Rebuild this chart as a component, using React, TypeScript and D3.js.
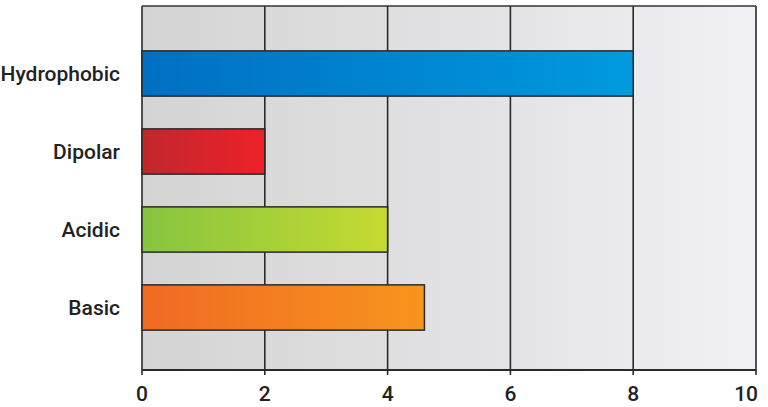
import React from 'react'
import * as d3 from 'd3'

const categories = ['Hydrophobic', 'Dipolar', 'Acidic', 'Basic']
const values = [8, 2, 4, 4.6]
const ticks = [0, 2, 4, 6, 8, 10]
const barColors = [
  ['#006fc3', '#009ade'],
  ['#c1272d', '#ee2128'],
  ['#86c540', '#c5da30'],
  ['#f06a24', '#f7951d'],
]

const W = 768
const H = 407
const left = 142
const right = 756
const top = 6
const bottom = 370

export default function App() {
  const x = d3.scaleLinear().domain([0, 10]).range([left, right])
  const y = d3
    .scaleBand<string>()
    .domain(categories)
    .range([34.5, 346.5])
    .paddingInner(0.42)
    .paddingOuter(0.21)

  const font = "Roboto, 'Noto Sans', sans-serif"

  return (
    <svg width={W} height={H} style={{ position: 'absolute', left: 0, top: 0, background: '#fff' }}>
      <defs>
        <linearGradient id="bg" x1="0" x2="1" y1="0" y2="0">
          <stop offset="0" stopColor="#d4d4d4" />
          <stop offset="0.6" stopColor="#e4e4e6" />
          <stop offset="1" stopColor="#f1f1f6" />
        </linearGradient>
        {barColors.map((c, i) => (
          <linearGradient key={i} id={`bar${i}`} x1="0" x2="1" y1="0" y2="0">
            <stop offset="0" stopColor={c[0]} />
            <stop offset="1" stopColor={c[1]} />
          </linearGradient>
        ))}
      </defs>

      <rect x={left} y={top} width={right - left} height={bottom - top} fill="url(#bg)" />

      {/* gridlines */}
      {ticks.map((t) => (
        <line key={t} x1={x(t)} x2={x(t)} y1={top} y2={bottom + 5} stroke="#2a2a2a" strokeWidth={1.6} />
      ))}
      <line x1={left} x2={right} y1={top} y2={top} stroke="#333" strokeWidth={1.6} />
      <line x1={left} x2={right} y1={bottom} y2={bottom} stroke="#2a2a2a" strokeWidth={1.8} />

      {/* bars */}
      {categories.map((c, i) => (
        <rect
          key={c}
          x={x(0)}
          y={y(c)}
          width={x(values[i]) - x(0)}
          height={y.bandwidth()}
          fill={`url(#bar${i})`}
          stroke="#2a2a2a"
          strokeWidth={1.5}
        />
      ))}

      {/* category labels */}
      {categories.map((c) => (
        <text
          key={c}
          x={120}
          y={(y(c) ?? 0) + y.bandwidth() / 2}
          dy="0.36em"
          textAnchor="end"
          fontFamily={font}
          fontWeight={500}
          fontSize={21}
          fill="#222"
        >
          {c}
        </text>
      ))}

      {/* tick labels */}
      {ticks.map((t) => (
        <text
          key={t}
          x={x(t)}
          y={393}
          dy="0.36em"
          textAnchor={t === 10 ? 'end' : 'middle'}
          dx={t === 10 ? 2 : 0}
          fontFamily={font}
          fontWeight={500}
          fontSize={21}
          fill="#222"
        >
          {t}
        </text>
      ))}
    </svg>
  )
}
